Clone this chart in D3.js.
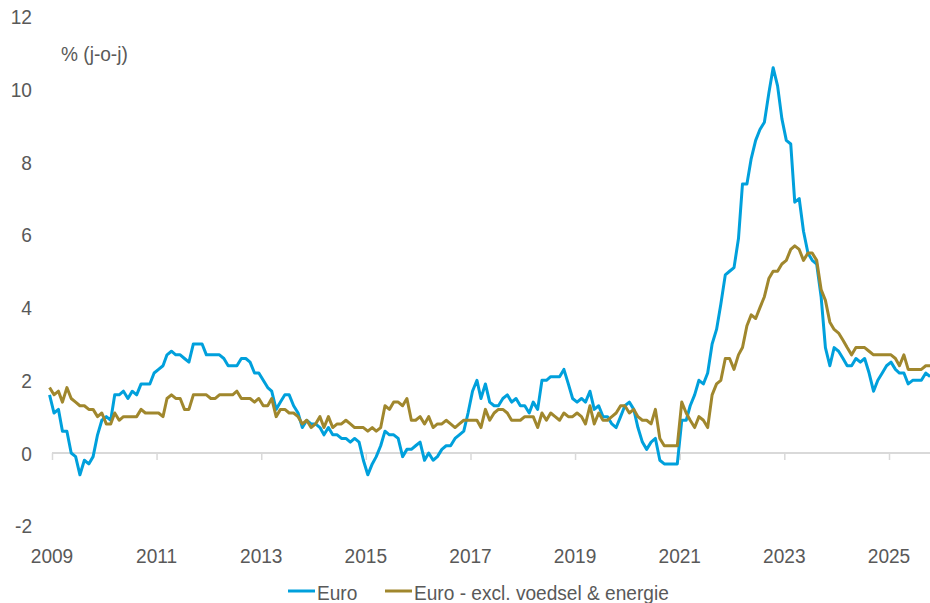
<!DOCTYPE html>
<html>
<head>
<meta charset="utf-8">
<script src="https://cdn.jsdelivr.net/npm/d3@7/dist/d3.min.js"></script>
<style>
  body { margin: 0; background: #fff; }
  text { font-family: "Liberation Sans", Arial, sans-serif; fill: #595959; font-size: 21px; }
</style>
</head>
<body>
<div id="chart"></div>
<script>
// monthly y-o-y, first point = Dec 2008
const startYear = 2008, startMonth = 11;

const euroValues = [
  1.6,
  1.1, 1.2, 0.6, 0.6, 0.0, -0.1, -0.6, -0.2, -0.3, -0.1, 0.5, 0.9,
  1.0, 0.9, 1.6, 1.6, 1.7, 1.5, 1.7, 1.6, 1.9, 1.9, 1.9, 2.2,
  2.3, 2.4, 2.7, 2.8, 2.7, 2.7, 2.6, 2.5, 3.0, 3.0, 3.0, 2.7,
  2.7, 2.7, 2.7, 2.6, 2.4, 2.4, 2.4, 2.6, 2.6, 2.5, 2.2, 2.2,
  2.0, 1.8, 1.7, 1.2, 1.4, 1.6, 1.6, 1.3, 1.1, 0.7, 0.9, 0.8,
  0.8, 0.7, 0.5, 0.7, 0.5, 0.5, 0.4, 0.4, 0.3, 0.4, 0.3, -0.2,
  -0.6, -0.3, -0.1, 0.2, 0.6, 0.5, 0.5, 0.4, -0.1, 0.1, 0.1, 0.2,
  0.3, -0.2, 0.0, -0.2, -0.1, 0.1, 0.2, 0.2, 0.4, 0.5, 0.6, 1.1,
  1.7, 2.0, 1.5, 1.9, 1.4, 1.3, 1.3, 1.5, 1.6, 1.4, 1.5, 1.3,
  1.3, 1.1, 1.4, 1.2, 2.0, 2.0, 2.1, 2.1, 2.1, 2.3, 1.9, 1.5,
  1.4, 1.5, 1.4, 1.7, 1.2, 1.3, 1.0, 1.0, 0.8, 0.7, 1.0, 1.3,
  1.4, 1.2, 0.7, 0.3, 0.1, 0.3, 0.4, -0.2, -0.3, -0.3, -0.3, -0.3,
  0.9, 0.9, 1.3, 1.6, 2.0, 1.9, 2.2, 3.0, 3.4, 4.1, 4.9, 5.0,
  5.1, 5.9, 7.4, 7.4, 8.1, 8.6, 8.9, 9.1, 9.9, 10.6, 10.1, 9.2,
  8.6, 8.5, 6.9, 7.0, 6.1, 5.5, 5.3, 5.2, 4.3, 2.9, 2.4, 2.9,
  2.8, 2.6, 2.4, 2.4, 2.6, 2.5, 2.6, 2.2, 1.7, 2.0, 2.2, 2.4,
  2.5, 2.3, 2.2, 2.2, 1.9, 2.0, 2.0, 2.0, 2.2, 2.1
];

const coreValues = [
  1.8,
  1.6, 1.7, 1.4, 1.8, 1.5, 1.4, 1.3, 1.3, 1.2, 1.2, 1.0, 1.1,
  0.8, 0.8, 1.1, 0.9, 1.0, 1.0, 1.0, 1.0, 1.2, 1.1, 1.1, 1.1,
  1.1, 1.0, 1.5, 1.6, 1.5, 1.5, 1.2, 1.2, 1.6, 1.6, 1.6, 1.6,
  1.5, 1.5, 1.6, 1.6, 1.6, 1.6, 1.7, 1.5, 1.5, 1.5, 1.4, 1.5,
  1.3, 1.3, 1.5, 1.0, 1.2, 1.2, 1.1, 1.1, 1.0, 0.8, 0.9, 0.7,
  0.8, 1.0, 0.7, 1.0, 0.7, 0.8, 0.8, 0.9, 0.8, 0.7, 0.7, 0.7,
  0.6, 0.7, 0.6, 0.7, 1.3, 1.2, 1.4, 1.4, 1.3, 1.5, 0.9, 0.9,
  1.0, 0.8, 1.0, 0.7, 0.8, 0.8, 0.9, 0.8, 0.7, 0.8, 0.9, 0.9,
  0.9, 0.9, 0.7, 1.2, 0.9, 1.1, 1.2, 1.2, 1.1, 0.9, 0.9, 0.9,
  1.0, 1.0, 1.0, 0.7, 1.1, 0.9, 1.1, 1.0, 0.9, 1.1, 1.0, 1.0,
  1.1, 1.0, 0.8, 1.3, 0.8, 1.1, 0.9, 0.9, 1.0, 1.1, 1.3, 1.3,
  1.1, 1.2, 1.0, 0.9, 0.9, 0.8, 1.2, 0.4, 0.2, 0.2, 0.2, 0.2,
  1.4, 1.1, 0.9, 0.7, 1.0, 0.9, 0.7, 1.6, 1.9, 2.0, 2.6, 2.6,
  2.3, 2.7, 2.9, 3.5, 3.8, 3.7, 4.0, 4.3, 4.8, 5.0, 5.0, 5.2,
  5.3, 5.6, 5.7, 5.6, 5.3, 5.5, 5.5, 5.3, 4.5, 4.2, 3.6, 3.4,
  3.3, 3.1, 2.9, 2.7, 2.9, 2.9, 2.9, 2.8, 2.7, 2.7, 2.7, 2.7,
  2.7, 2.6, 2.4, 2.7, 2.3, 2.3, 2.3, 2.3, 2.4, 2.4
];

const yTicks = [-2, 0, 2, 4, 6, 8, 10, 12];
const xTickYears = [2009, 2011, 2013, 2015, 2017, 2019, 2021, 2023, 2025];
const seriesNames = ["Euro", "Euro - excl. voedsel & energie"];
const seriesColors = ["#00a0dc", "#a0872d"];
const unitLabel = "% (j-o-j)";

const W = 930, H = 603;
// the original type is a bit narrower than Liberation Sans
const squeeze = "scale(0.91,1)";

const svg = d3.select("#chart").append("svg")
  .attr("width", W)
  .attr("height", H);

const x = d3.scaleTime()
  .domain([new Date(2009, 0, 1), new Date(2025, 0, 1)])
  .range([52, 889]);

const y = d3.scaleLinear()
  .domain([-2, 12])
  .range([525.7, 16.8]);

const dateAt = i => new Date(startYear, startMonth + i, 15);

const euro = euroValues.map((v, i) => ({ date: dateAt(i), value: v }));
const core = coreValues.map((v, i) => ({ date: dateAt(i), value: v }));

// y labels (no axis line)
svg.append("g")
  .selectAll("text")
  .data(yTicks)
  .join("text")
  .attr("transform", d => `translate(32,${y(d)}) ${squeeze}`)
  .attr("dy", "0.36em")
  .attr("text-anchor", "end")
  .text(d => d);

svg.append("text")
  .attr("transform", `translate(61,53) ${squeeze}`)
  .attr("dy", "0.36em")
  .text(unitLabel);

// x axis on the zero line
const xAxis = svg.append("g")
  .attr("transform", `translate(0,${y(0)})`)
  .call(d3.axisBottom(x)
    .tickValues(xTickYears.map(yr => new Date(yr, 0, 1)))
    .tickFormat("")
    .tickSize(7));

xAxis.select(".domain")
  .attr("stroke", "#d9d9d9")
  .attr("stroke-width", 2)
  .attr("d", `M52,0H${W}`);
xAxis.selectAll(".tick line").attr("stroke", "#d9d9d9").attr("stroke-width", 1.5);

svg.append("g")
  .selectAll("text")
  .data(xTickYears)
  .join("text")
  .attr("transform", d => `translate(${x(new Date(d, 0, 1))},555) ${squeeze}`)
  .attr("dy", "0.36em")
  .attr("text-anchor", "middle")
  .text(d => d);

const line = d3.line()
  .x(d => x(d.date))
  .y(d => y(d.value));

[euro, core].forEach((series, k) => {
  svg.append("path")
    .datum(series)
    .attr("fill", "none")
    .attr("stroke", seriesColors[k])
    .attr("stroke-width", 3)
    .attr("stroke-linejoin", "round")
    .attr("d", line);
});

// legend
const legendX = [288, 385];
const legend = svg.append("g");
seriesNames.forEach((name, k) => {
  legend.append("line")
    .attr("x1", legendX[k])
    .attr("x2", legendX[k] + 27)
    .attr("y1", 591)
    .attr("y2", 591)
    .attr("stroke", seriesColors[k])
    .attr("stroke-width", 3);
  legend.append("text")
    .attr("transform", `translate(${legendX[k] + 29},592) ${squeeze}`)
    .attr("dy", "0.36em")
    .text(name);
});
</script>
</body>
</html>
